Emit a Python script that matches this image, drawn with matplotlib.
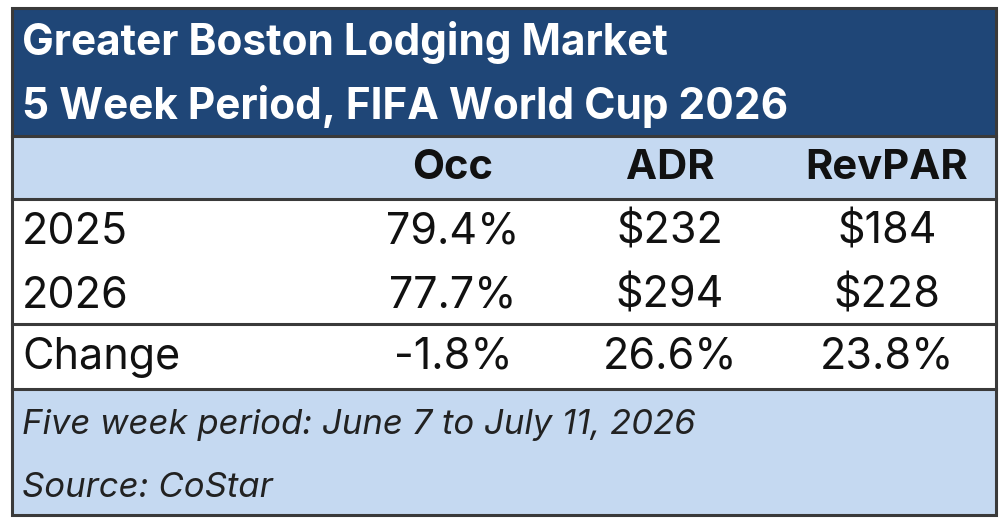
import matplotlib
matplotlib.use("Agg")
import matplotlib.pyplot as plt
from matplotlib.patches import Rectangle

# table content
title_lines = ["Greater Boston Lodging Market", "5 Week Period, FIFA World Cup 2026"]
col_names = ["Occ", "ADR", "RevPAR"]
row_names = ["2025", "2026", "Change"]
occ = ["79.4%", "77.7%", "-1.8%"]
adr = ["$232", "$294", "26.6%"]
revpar = ["$184", "$228", "23.8%"]
notes = ["Five week period: June 7 to July 11, 2026", "Source: CoStar"]

navy = "#1F4677"
light = "#C5D9F1"
edge = "#3a3a3a"

fig = plt.figure(figsize=(10, 5.21), dpi=100)
ax = fig.add_axes([0, 0, 1, 1])
ax.set_xlim(0, 1000)
ax.set_ylim(521, 0)
ax.axis("off")

L, R = 12, 996
ax.add_patch(Rectangle((L, 8), R - L, 128, fc=navy, ec="none"))
ax.add_patch(Rectangle((L, 136), R - L, 63, fc=light, ec="none"))
ax.add_patch(Rectangle((L, 389), R - L, 126, fc=light, ec="none"))
ax.add_patch(Rectangle((L, 8), R - L, 507, fc="none", ec=edge, lw=2.2))
for y in [136, 199, 324, 389]:
    ax.plot([L, R], [y, y], color=edge, lw=2.2)

fn = "Inter"
for i, t in enumerate(title_lines):
    ax.text(22, 43 + i * 63, t, color="white", fontsize=30.5, fontweight="bold",
            family=fn, va="center", ha="left")

col_x = [453, 670, 887]
for x, c in zip(col_x, col_names):
    ax.text(x, 168, c, fontsize=30, fontweight="bold", family=fn,
            va="center", ha="center", color="#111111")

row_y = [232, 296, 357]
cols = [occ, adr, revpar]
for i, (y, name) in enumerate(zip(row_y, row_names)):
    ax.text(22, y, name, fontsize=31, family=fn, va="center", ha="left", color="#111111")
    for x, vals in zip(col_x, cols):
        ax.text(x, y, vals[i], fontsize=31, family=fn, va="center", ha="center",
                color="#111111")

for i, n in enumerate(notes):
    ax.text(22, 425 + i * 63, n, fontsize=25, style="italic", family=fn,
            va="center", ha="left", color="#222222")

fig.savefig("out.png", dpi=100)
